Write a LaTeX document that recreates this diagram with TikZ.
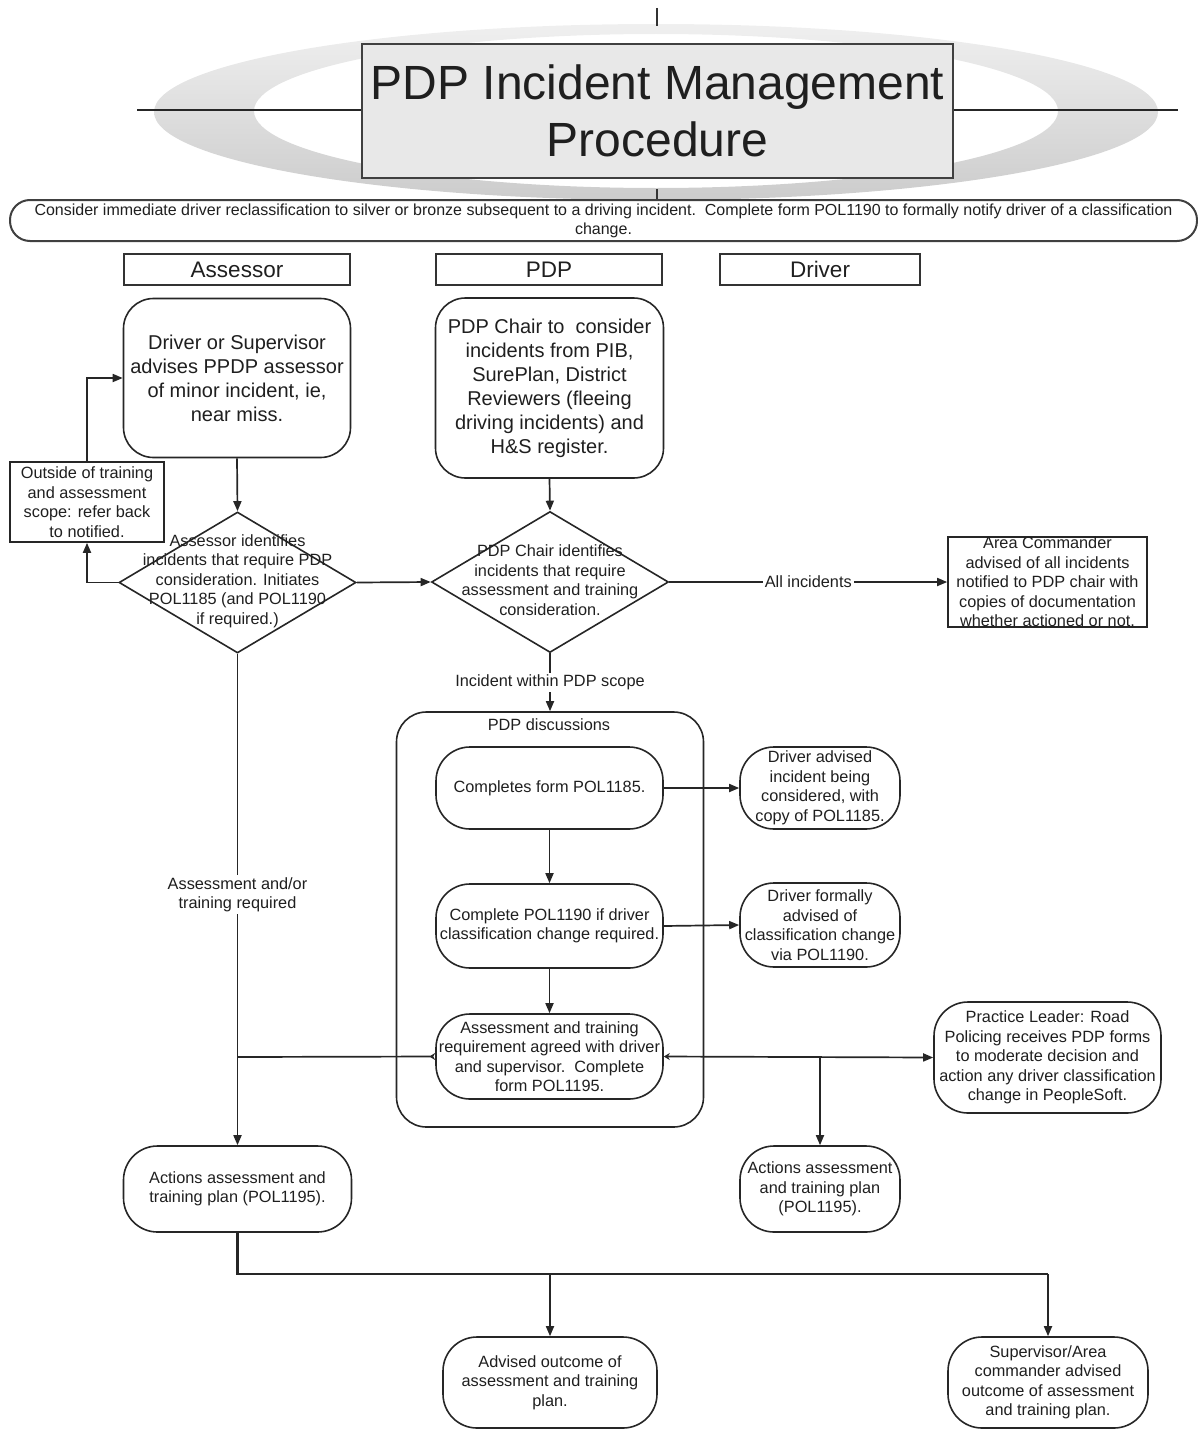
\documentclass[tikz,border=0pt]{standalone}
\usepackage{fontspec}
\setmainfont{Liberation Sans}
\usetikzlibrary{shapes.geometric,arrows.meta,calc}
\begin{document}
\begin{tikzpicture}[x=1pt,y=-1pt,
  every node/.style={font=\fontsize{16.3}{19.5}\selectfont, text=black!88, align=center, inner sep=0pt},
  ln/.style={draw=black!85, line width=1.7pt},
  arr/.style={ln, -{Triangle[length=10pt,width=8pt]}},
  rbox/.style={draw=black!85, line width=1.6pt, rounded corners=34pt},
  bigbox/.style={draw=black!85, line width=1.6pt, rounded corners=30pt, font=\fontsize{20}{24}\selectfont},
  sbox/.style={draw=black!85, line width=1.6pt},
  hdr/.style={draw=black!80, line width=1.8pt, minimum height=31pt, font=\fontsize{22.5}{24}\selectfont},
  dia/.style={draw=black!85, line width=1.6pt, shape=diamond, minimum width=237pt, minimum height=141pt},
  lab/.style={fill=white, inner sep=2pt},
]
\useasboundingbox (0,0) rectangle (1198,1429);

% ---- title ring ----
\shade[even odd rule, top color=gray!12, bottom color=gray!40]
  (656,112) ellipse [x radius=502pt, y radius=88pt]
  (656,111) ellipse [x radius=402pt, y radius=77pt];
\coordinate (hl) at (137,110);
\coordinate (hr) at (1178,110);
\coordinate (tt) at (657,8);
\coordinate (tb) at (657,26);
\coordinate (bt) at (657,189);
\coordinate (bb) at (657,200);
\draw[line width=1.5pt, black!85] (hl) -- (hr);
\draw[line width=1.2pt, black!80] (tt) -- (tb);
\draw[line width=1.2pt, black!80] (bt) -- (bb);
\node[draw=black!75, line width=2.5pt, fill=gray!18, minimum width=591pt, minimum height=134pt,
      font=\fontsize{48}{57}\selectfont] (title) at (657.5,111) {PDP Incident Management\\Procedure};

% ---- banner ----
\node[draw=black!75, line width=2pt, rounded corners=20pt, minimum width=1187pt, minimum height=41pt,
      font=\fontsize{16}{19}\selectfont] (banner) at (603.5,220.5)
  {Consider immediate driver reclassification to silver or bronze subsequent to a driving incident.\ \ Complete form POL1190 to formally notify driver of a classification\\change.};

% ---- lane headers ----
\node[hdr, minimum width=226pt] (hA) at (237,269.5) {Assessor};
\node[hdr, minimum width=226pt] (hP) at (549,269.5) {PDP};
\node[hdr, minimum width=200pt] (hD) at (820,269.5) {Driver};

% ---- top nodes ----
\node[bigbox, minimum width=227pt, minimum height=159pt] (a1) at (237,378)
  {Driver or Supervisor\\advises PPDP assessor\\of minor incident, ie,\\near miss.};
\node[bigbox, minimum width=228pt, minimum height=180pt] (p1) at (549.5,388)
  {PDP Chair to\ \ consider\\incidents from PIB,\\SurePlan, District\\Reviewers (fleeing\\driving incidents) and\\H\&S register.};
\node[sbox, minimum width=154pt, minimum height=80pt] (out) at (87,502)
  {Outside of training\\and assessment\\scope: refer back\\to notified.};

% ---- diamonds ----
\node[dia] (d1) at (237.5,582.5) {};
\node (d1t) at (237.5,581) {Assessor identifies\\incidents that require PDP\\consideration. Initiates\\POL1185 (and POL1190\\if required.)};
\node[dia] (d2) at (550,582) {};
\node (d2t) at (550,580) {PDP Chair identifies\\incidents that require\\assessment and training\\consideration.};

\node[sbox, minimum width=199pt, minimum height=90pt] (ac) at (1047.5,582)
  {Area Commander\\advised of all incidents\\notified to PDP chair with\\copies of documentation\\whether actioned or not.};

% ---- PDP discussions container ----
\node[draw=black!85, line width=1.6pt, rounded corners=30pt, minimum width=307pt, minimum height=415pt] (cont) at (550,919.5) {};
\node (contl) at (549,725) {PDP discussions};

\node[rbox, minimum width=227pt, minimum height=82pt] (c1) at (549.5,788) {Completes form POL1185.};
\node[rbox, minimum width=227pt, minimum height=84pt] (c2) at (549.5,926) {Complete POL1190 if driver\\classification change required.};
\node[rbox, minimum width=227pt, minimum height=85pt] (c3) at (549.5,1056.5) {Assessment and training\\requirement agreed with driver\\and supervisor.\ \ Complete\\form POL1195.};

\node[rbox, minimum width=160pt, minimum height=82pt] (r1) at (820,788) {Driver advised\\incident being\\considered, with\\copy of POL1185.};
\node[rbox, minimum width=160pt, minimum height=84pt] (r2) at (820,925) {Driver formally\\advised of\\classification change\\via POL1190.};

\node[rbox, minimum width=227pt, minimum height=111pt] (pl) at (1047.5,1057.5) {Practice Leader: Road\\Policing receives PDP forms\\to moderate decision and\\action any driver classification\\change in PeopleSoft.};

\node[rbox, minimum width=228pt, minimum height=86pt] (a1p) at (237.5,1189) {Actions assessment and\\training plan (POL1195).};
\node[rbox, minimum width=160pt, minimum height=86pt] (a2p) at (820,1189) {Actions assessment\\and training plan\\(POL1195).};

\node[rbox, minimum width=214pt, minimum height=91pt] (adv) at (550,1382.5) {Advised outcome of\\assessment and training\\plan.};
\node[rbox, minimum width=200pt, minimum height=91pt] (sup) at (1048,1382.5) {Supervisor/Area\\commander advised\\outcome of assessment\\and training plan.};

% ---- connectors ----
\draw[arr] (a1.south) -- (d1.north);
\draw[arr] (p1.south) -- (d2.north);
\draw[arr] (d1.east) -- (d2.west);
\draw[arr] (d1.west) -| (out.south);
\draw[arr] (out.north) |- (a1.west);
\draw[arr] (d2.east) -- node[lab] (alli) {All incidents} (ac.west);
\draw[arr] (d2.south) -- node[lab, pos=0.5] (inpdp) {Incident within PDP scope} (cont.north);
\draw[arr] (c1.south) -- (c2.north);
\draw[arr] (c2.south) -- (c3.north);
\draw[arr] (c1.east) -- (r1.west);
\draw[arr] (c2.east) -- (r2.west);

\draw[arr] (d1.south) -- node[lab, pos=0.49] (atr) {Assessment and/or\\training required} (a1p.north);
\coordinate (jl) at (237.5,1057);
\draw[ln, {Stealth[reversed,length=6pt,width=7pt]}-] (c3.west) -- (jl);
\draw[arr, {Stealth[length=6pt,width=7pt]}-{Triangle[length=10pt,width=8pt]}] (c3.east) -- (pl.west);
\draw[arr] (a2p.north |- c3.east) -- (a2p.north);

\coordinate (bl) at (237.5,1274);
\draw[draw=black!85, line width=2.5pt] (a1p.south) -- (bl) -- (sup.north |- bl);
\draw[arr] (adv.north |- bl) -- (adv.north);
\draw[arr] (sup.north |- bl) -- (sup.north);
\end{tikzpicture}
\end{document}
